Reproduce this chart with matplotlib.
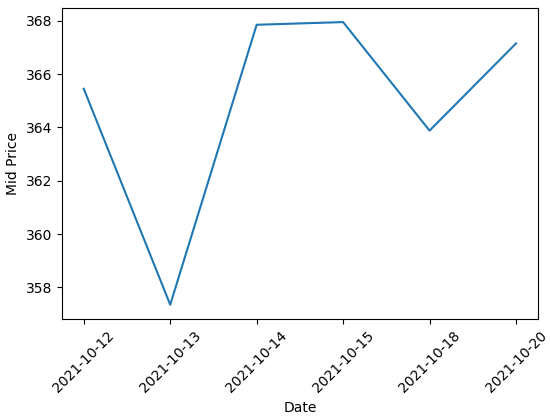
import matplotlib.pyplot as plt

dates = ["2021-10-12", "2021-10-13", "2021-10-14", "2021-10-15", "2021-10-18", "2021-10-20"]
mid_price = [365.45, 357.35, 367.85, 367.95, 363.88, 367.15]

fig, ax = plt.subplots(figsize=(5.5, 4.19), dpi=100)
ax.plot(dates, mid_price)
ax.set_xlabel("Date")
ax.set_ylabel("Mid Price")
plt.xticks(rotation=45)
fig.subplots_adjust(left=0.113, right=0.9775, top=0.981, bottom=0.239)
plt.savefig("out.png")
